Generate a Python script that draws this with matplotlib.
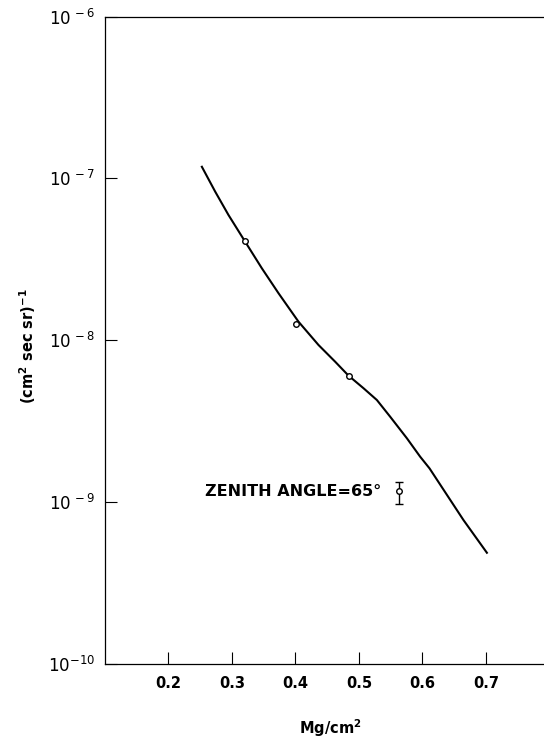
#!/usr/bin/env python3
"""Flux vs. atmospheric depth at zenith angle 65 deg (scanned figure replica)."""

import matplotlib

matplotlib.use("Agg")
import matplotlib.pyplot as plt
import numpy as np

# smooth curve
curve_depth = [0.2526, 0.2736, 0.2945, 0.3208, 0.3471, 0.3733, 0.4048,
               0.4363, 0.4626, 0.4836, 0.5072, 0.5283, 0.5492, 0.5756,
               0.5965, 0.6112, 0.6647, 0.7016]
curve_flux = [1.18e-7, 8.28e-8, 5.94e-8, 4.06e-8, 2.78e-8, 1.95e-8, 1.30e-8,
              9.33e-9, 7.35e-9, 6.03e-9, 5.04e-9, 4.26e-9, 3.36e-9, 2.47e-9,
              1.90e-9, 1.61e-9, 7.71e-10, 4.84e-10]

# measured points (open circles)
point_depth = [0.321, 0.401, 0.484]
point_flux = [4.08e-8, 1.26e-8, 6.0e-9]

# single point with error bar
err_depth = [0.563]
err_flux = [1.16e-9]
err_low = [0.97e-9]
err_high = [1.33e-9]

y_ticks = [1e-10, 1e-9, 1e-8, 1e-7, 1e-6]
y_tick_labels = [r"$\mathregular{10^{-10}}$", r"$\mathregular{10^{\,-9}}$",
                 r"$\mathregular{10^{\,-8}}$", r"$\mathregular{10^{\,-7}}$",
                 r"$\mathregular{10^{\,-6}}$"]
x_ticks = [0.2, 0.3, 0.4, 0.5, 0.6, 0.7]
x_tick_labels = ["0.2", "0.3", "0.4", "0.5", "0.6", "0.7"]

W, H = 544, 740
fig = plt.figure(figsize=(W / 100, H / 100), dpi=100)
left, right, top, bottom = 105, 544, 16.7, 663.5
ax = fig.add_axes([left / W, 1 - bottom / H, (right - left) / W, (bottom - top) / H])

ax.plot(curve_depth, curve_flux, color="black", linewidth=1.5,
        solid_joinstyle="round", zorder=2)
ax.plot(point_depth, point_flux, linestyle="none", marker="o", markersize=4,
        markerfacecolor="white", markeredgecolor="black", markeredgewidth=1.0,
        zorder=3)
yerr = np.array([[f - lo for f, lo in zip(err_flux, err_low)],
                 [hi - f for f, hi in zip(err_flux, err_high)]])
ax.errorbar(err_depth, err_flux, yerr=yerr, fmt="o", markersize=4,
            markerfacecolor="white", markeredgecolor="black",
            markeredgewidth=1.0, ecolor="black", elinewidth=1.0, capsize=3,
            capthick=1.0, zorder=3)

ax.set_yscale("log")
ax.set_xlim(0.1, 0.1 + (right - left) / 634.8)
ax.set_ylim(1e-10, 1e-6)
ax.set_yticks(y_ticks)
ax.set_yticklabels(y_tick_labels)
ax.yaxis.set_minor_locator(matplotlib.ticker.NullLocator())
ax.set_xticks(x_ticks)
ax.set_xticklabels(x_tick_labels, fontweight="bold")

ax.tick_params(axis="both", direction="in", length=8.5, width=0.8, color="black")
ax.tick_params(axis="y", labelsize=12, pad=7)
ax.tick_params(axis="x", labelsize=10.5, pad=9)

ax.spines["right"].set_visible(False)
for side in ("left", "top", "bottom"):
    ax.spines[side].set_linewidth(0.9)

ax.text(0.258, 1.16e-9, "ZENITH ANGLE=65°", fontsize=11.5, fontweight="bold",
        ha="left", va="center")

fig.text(330 / W, 1 - 728 / H, r"Mg/cm$^{\mathbf{2}}$", fontsize=10.5,
         fontweight="bold", ha="center", va="center")
fig.text(28 / W, 1 - 346 / H, r"(cm$^{\mathbf{2}}$ sec sr)$^{\mathbf{-1}}$",
         fontsize=10.5, fontweight="bold", rotation=90, ha="center", va="center")

fig.savefig("out.png", dpi=100)
